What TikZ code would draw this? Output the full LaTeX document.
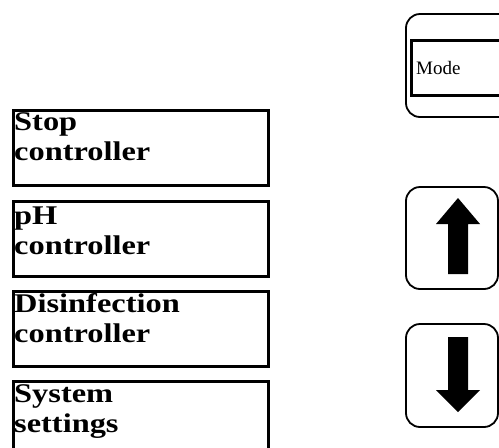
\documentclass[tikz,border=0pt]{standalone}
\usepackage{fontspec}
\setmainfont{Liberation Serif}
\newfontfamily\labfont[FakeStretch=1.2]{Liberation Serif}
\begin{document}
\begin{tikzpicture}[x=1pt,y=-1pt,
  menubox/.style={draw=black, line width=3pt, minimum width=255pt, minimum height=75pt, inner sep=0pt, anchor=north west},
  menutext/.style={anchor=base west, inner sep=0pt, font=\labfont\bfseries\fontsize{27}{30}\selectfont, align=left},
  keybox/.style={draw=black, line width=1.8pt, rounded corners=14pt},
  arrowshape/.style={fill=black, draw=none}]
\useasboundingbox (0,0) rectangle (499,448);
% left menu boxes
\node[menubox] (stop) at (12,109) {};
\node[menubox] (ph) at (12,200) {};
\node[menubox] (dis) at (12,290) {};
\node[menubox] (sys) at (12,380) {};
\node[menutext] (stopt) at (14,160) {Stop\\controller};
\node[menutext] (pht) at (14,254) {pH\\controller};
\node[menutext] (dist) at (14,342) {Disinfection\\controller};
\node[menutext] (syst) at (14,432) {System\\settings};
% mode key
\draw[keybox] (406,14) rectangle (520,117);
\draw[line width=3pt] (411,40) rectangle (520,95);
\node[anchor=base west, inner sep=0pt, font=\fontsize{19}{22}\selectfont] (mode) at (416,74) {Mode};
% up key
\draw[keybox] (406,187) rectangle (498,289);
\fill[arrowshape] (458,198) -- (480,224) -- (468,224) -- (468,274) -- (448,274) -- (448,224) -- (436,224) -- cycle;
% down key
\draw[keybox] (406,324) rectangle (498,427);
\fill[arrowshape] (458,412) -- (480,390) -- (468,390) -- (468,337) -- (448,337) -- (448,390) -- (436,390) -- cycle;
\end{tikzpicture}
\end{document}
